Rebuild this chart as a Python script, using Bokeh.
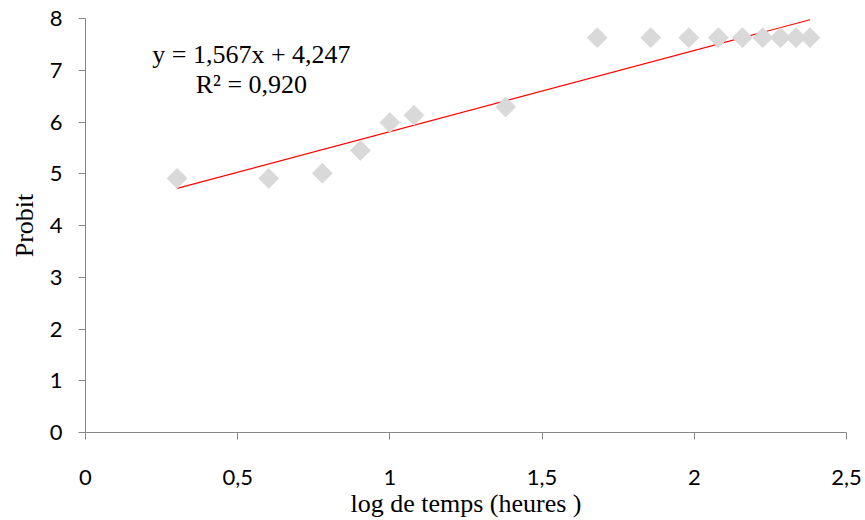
import numpy as np
from bokeh.plotting import figure
from bokeh.models import Range1d, Label, FixedTicker, CustomJSTickFormatter
from bokeh.embed import file_html
from bokeh.resources import INLINE

# data
log_time = [0.301, 0.602, 0.778, 0.903, 1.000, 1.079, 1.380, 1.681, 1.857,
            1.982, 2.079, 2.158, 2.225, 2.283, 2.334, 2.380]
probit = [4.91, 4.91, 5.01, 5.45, 5.99, 6.13, 6.29, 7.63, 7.63,
          7.63, 7.63, 7.63, 7.63, 7.63, 7.63, 7.63]
slope = 1.567
intercept = 4.247
r2 = 0.920
x_ticks = [0, 0.5, 1, 1.5, 2, 2.5]
y_ticks = [0, 1, 2, 3, 4, 5, 6, 7, 8]

p = figure(width=865, height=520, output_backend="svg", toolbar_location=None,
           x_range=Range1d(0, 2.5), y_range=Range1d(0, 8),
           min_border_left=85, min_border_right=19, min_border_top=18,
           min_border_bottom=80)
p.outline_line_color = None
p.grid.visible = False

# trend line
xl = np.array([min(log_time), max(log_time)])
p.line(xl, slope * xl + intercept, line_color="#ff0000", line_width=1.2)

# points
p.scatter(log_time, probit, marker="square", angle=np.pi / 4, size=14,
          fill_color="#d9d9d9", line_color="#d9d9d9")

fmt = CustomJSTickFormatter(code="return tick.toString().replace('.', ',');")
for ax in (p.xaxis[0], p.yaxis[0]):
    ax.axis_line_color = "#868686"
    ax.major_tick_line_color = "#868686"
    ax.minor_tick_line_color = None
    ax.major_tick_in = 0
    ax.major_tick_out = 7
    ax.major_label_text_font = "Lato"
    ax.major_label_text_font_size = "22px"
    ax.major_label_text_color = "#000000"
    ax.axis_label_text_font = "Liberation Serif"
    ax.axis_label_text_font_size = "26px"
    ax.axis_label_text_font_style = "normal"
    ax.axis_label_text_color = "#000000"
    ax.formatter = fmt

p.xaxis.ticker = FixedTicker(ticks=x_ticks)
p.yaxis.ticker = FixedTicker(ticks=y_ticks)
p.xaxis.axis_label = "log de temps (heures )"
p.yaxis.axis_label = "Probit"
p.xaxis.major_label_standoff = 30
p.yaxis.major_label_standoff = 16
p.xaxis.axis_label_standoff = 1
p.yaxis.axis_label_standoff = 8

eq1 = "y = " + f"{slope:.3f}".replace(".", ",") + "x + " + f"{intercept:.3f}".replace(".", ",")
eq2 = "R² = " + f"{r2:.3f}".replace(".", ",")
for txt, yy in ((eq1, 7.30), (eq2, 6.72)):
    p.add_layout(Label(x=0.545, y=yy, text=txt, text_align="center",
                       text_baseline="middle", text_font="Liberation Serif",
                       text_font_size="26px", text_color="#000000"))

open("out.html", "w").write(file_html(p, INLINE))
